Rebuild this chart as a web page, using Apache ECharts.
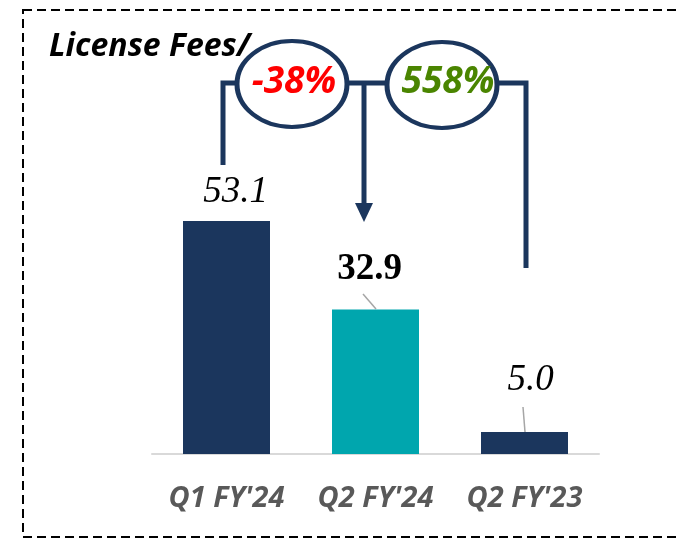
<!DOCTYPE html>
<html>
<head>
<meta charset="utf-8">
<script src="https://cdn.jsdelivr.net/npm/echarts@6/dist/echarts.min.js"></script>
<style>
  html, body { margin: 0; padding: 0; background: #fff; }
  #main { width: 679px; height: 541px; }
</style>
</head>
<body>
<div id="main"></div>
<script>
// data
var categories = ["Q1 FY'24", "Q2 FY'24", "Q2 FY'23"];
var values = [53.1, 32.9, 5.0];
var barColors = ['#1b365d', '#00a6ae', '#1b365d'];
var changeLabels = ['-38%', '558%'];
var changeColors = ['#ff0000', '#4a8500'];

var navy = '#1b365d';
var chart = echarts.init(document.getElementById('main'), null, { renderer: 'canvas' });

// label tweaks per bar (distance above bar, x shift, style)
var labelCfg = [
  { distance: 10, dx: 9, weight: 'normal', style: 'italic' },
  { distance: 22, dx: -6, weight: 'bold', style: 'normal' },
  { distance: 33, dx: 6, weight: 'normal', style: 'italic' }
];

var seriesData = values.map(function (v, i) {
  return {
    value: v,
    itemStyle: { color: barColors[i] },
    label: {
      distance: labelCfg[i].distance,
      offset: [labelCfg[i].dx, 0],
      fontWeight: labelCfg[i].weight,
      fontStyle: labelCfg[i].style
    }
  };
});

var option = {
  animation: false,
  backgroundColor: '#fff',
  grid: { left: 152, right: 80, top: 15, bottom: 87 },
  xAxis: {
    type: 'category',
    data: categories,
    axisLine: { lineStyle: { color: '#d9d9d9', width: 2 } },
    axisTick: { show: false },
    axisLabel: {
      interval: 0,
      hideOverlap: false,
      margin: 30,
      color: '#595959',
      fontFamily: 'Open Sans',
      fontWeight: 'bold',
      fontStyle: 'italic',
      fontSize: 29
    }
  },
  yAxis: { type: 'value', min: 0, max: 100, show: false },
  series: [{
    type: 'bar',
    barWidth: 87,
    data: seriesData,
    label: {
      show: true,
      position: 'top',
      color: '#000',
      fontFamily: 'Liberation Serif',
      fontSize: 37,
      formatter: function (p) { return p.value.toFixed(1); }
    }
  }],
  graphic: [
    // dashed frame
    { type: 'rect', shape: { x: 23, y: 10, width: 700, height: 527 },
      style: { fill: null, stroke: '#000', lineWidth: 2, lineDash: [9, 5] } },
    // title
    { type: 'text', left: 49, top: 31,
      style: { text: 'License Fees/', fill: '#000', font: 'italic bold 32px "Open Sans"' } },
    // bracket lines
    { type: 'polyline', shape: { points: [[223, 165], [223, 83], [238, 83]] },
      style: { stroke: navy, lineWidth: 5, fill: null } },
    { type: 'line', shape: { x1: 346, y1: 83, x2: 388, y2: 83 },
      style: { stroke: navy, lineWidth: 5 } },
    { type: 'line', shape: { x1: 364, y1: 83, x2: 364, y2: 205 },
      style: { stroke: navy, lineWidth: 5 } },
    { type: 'polygon', shape: { points: [[355, 203], [373, 203], [364, 222]] },
      style: { fill: navy } },
    { type: 'polyline', shape: { points: [[497, 83], [526, 83], [526, 268]] },
      style: { stroke: navy, lineWidth: 5, fill: null } },
    // ellipses
    { type: 'circle', x: 292, y: 84, scaleY: 43 / 55, shape: { cx: 0, cy: 0, r: 55 },
      style: { fill: '#fff', stroke: navy, lineWidth: 5, strokeNoScale: true } },
    { type: 'circle', x: 442, y: 85, scaleY: 43 / 55, shape: { cx: 0, cy: 0, r: 55 },
      style: { fill: '#fff', stroke: navy, lineWidth: 5, strokeNoScale: true } },
    { type: 'text', x: 294, y: 82,
      style: { text: changeLabels[0], fill: changeColors[0], font: 'italic bold 37px "Open Sans"',
        textAlign: 'center', textVerticalAlign: 'middle' } },
    { type: 'text', x: 448, y: 82,
      style: { text: changeLabels[1], fill: changeColors[1], font: 'italic bold 37px "Open Sans"',
        textAlign: 'center', textVerticalAlign: 'middle' } },
    // leader lines from labels to bars
    { type: 'line', shape: { x1: 363, y1: 294, x2: 376, y2: 309 },
      style: { stroke: '#a6a6a6', lineWidth: 1.5 } },
    { type: 'line', shape: { x1: 523, y1: 407, x2: 525, y2: 432 },
      style: { stroke: '#a6a6a6', lineWidth: 1.5 } }
  ]
};

chart.setOption(option);
</script>
</body>
</html>
